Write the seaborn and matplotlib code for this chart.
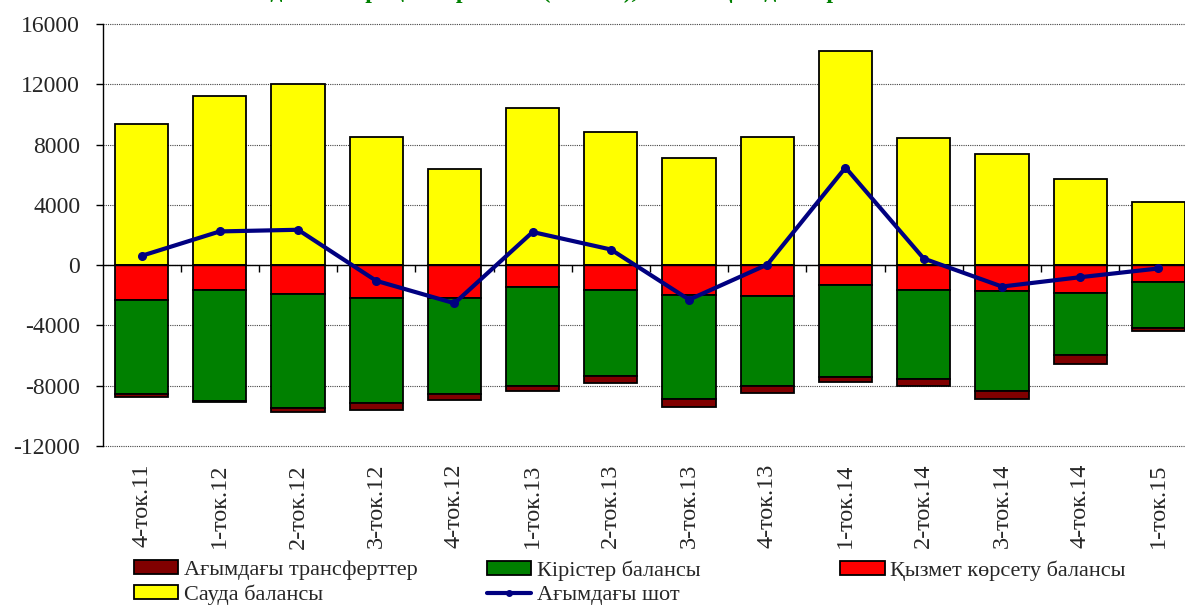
import matplotlib
matplotlib.use('Agg')
import matplotlib.pyplot as plt
import seaborn as sns
import numpy as np
from matplotlib.patches import Patch
from matplotlib.lines import Line2D

quarters = ['4-ток.11', '1-ток.12', '2-ток.12', '3-ток.12', '4-ток.12', '1-ток.13', '2-ток.13',
            '3-ток.13', '4-ток.13', '1-ток.14', '2-ток.14', '3-ток.14', '4-ток.14', '1-ток.15']
trade = [9350, 11250, 12050, 8500, 6390, 10430, 8810, 7100, 8520, 14190, 8460, 7390, 5710, 4170]
services = [-2330, -1640, -1930, -2200, -2200, -1440, -1640, -2000, -2060, -1330, -1640, -1710, -1860, -1150]
income = [-6220, -7350, -7550, -6950, -6350, -6600, -5750, -6880, -5980, -6110, -5950, -6660, -4110, -3000]
transfers = [-220, -90, -270, -440, -420, -290, -420, -550, -480, -310, -450, -510, -580, -250]
current = [620, 2240, 2350, -1040, -2530, 2200, 1040, -2290, 40, 6480, 440, -1420, -800, -220]

labels = ['Ағымдағы трансферттер', 'Кірістер балансы', 'Қызмет көрсету балансы',
          'Сауда балансы', 'Ағымдағы шот']
title = 'Ағымдағы операциялар шоты (баланс), млн. АҚШ доллары'

c_trade = '#FFFF00'
c_serv = '#FF0000'
c_inc = '#008000'
c_trans = '#800000'
c_line = '#000080'

sns.set_style('white')
plt.rcParams['font.family'] = ['Liberation Serif', 'DejaVu Serif']
plt.rcParams['axes.unicode_minus'] = False

fig = plt.figure(figsize=(11.85, 6.05), dpi=100)
ax = fig.add_axes([0.0865, 0.263, 0.924, 0.697])

s = np.array(services, dtype=float)
inc = np.array(income, dtype=float)
bar_kw = dict(edgecolor='black', linewidth=1.3, width=0.68, saturation=1, ax=ax)
sns.barplot(x=quarters, y=trade, color=c_trade, **bar_kw)
sns.barplot(x=quarters, y=services, color=c_serv, **bar_kw)
sns.barplot(x=quarters, y=income, bottom=s, color=c_inc, **bar_kw)
sns.barplot(x=quarters, y=transfers, bottom=s + inc, color=c_trans, **bar_kw)
ax.plot(np.arange(len(quarters)), current, color=c_line, lw=3.0, marker='o', ms=5.5, zorder=4)

ax.set_xlim(-0.5, len(quarters) - 0.5)
ax.set_ylim(-12000, 16000)
ax.set_yticks(np.arange(-12000, 16001, 4000))
ax.set_xlabel('')
ax.set_ylabel('')
ax.set_axisbelow(True)
ax.yaxis.grid(True, linestyle=(0, (1, 1)), color='#444444', lw=0.8)
for gl in ax.get_ygridlines():
    gl.set_clip_on(False)
ax.xaxis.grid(False)

for side in ['top', 'right']:
    ax.spines[side].set_visible(False)
ax.spines['left'].set_color('black')
ax.spines['left'].set_linewidth(1.0)
ax.spines['bottom'].set_position(('data', 0))
ax.spines['bottom'].set_color('black')
ax.spines['bottom'].set_linewidth(1.0)

ax.tick_params(axis='y', direction='out', length=5, width=1, color='black', labelsize=17, pad=11, left=True)
ax.set_xticks(np.arange(len(quarters)))
ax.set_xticklabels([])
ax.tick_params(axis='x', which='major', length=0)
ax.set_xticks(np.arange(0.5, len(quarters) - 1, 1), minor=True)
ax.tick_params(axis='x', which='minor', direction='out', length=5, width=1, color='black', bottom=True)

sec = ax.secondary_xaxis('bottom')
sec.set_xticks(np.arange(len(quarters)))
sec.set_xticklabels(quarters, rotation=90, fontsize=17.5)
sec.tick_params(length=0, pad=13)
sec.spines['bottom'].set_visible(False)

fig.text(0.45, 1.004, title, color='#008000', fontsize=17, fontweight='bold', ha='center', va='baseline')

def patch(c):
    return Patch(facecolor=c, edgecolor='black', linewidth=1.3)

leg_kw = dict(loc='upper left', frameon=False, fontsize=16, handlelength=2.0, handleheight=0.6,
              handletextpad=0.25, labelspacing=0.2, borderpad=0, borderaxespad=0)
l1 = fig.legend([patch(c_trans), patch(c_trade)], [labels[0], labels[3]],
                bbox_to_anchor=(0.113, 0.074), **leg_kw)
l2 = fig.legend([patch(c_inc), Line2D([], [], color=c_line, lw=3.0, marker='o', ms=4)],
                [labels[1], labels[4]], bbox_to_anchor=(0.411, 0.074), **leg_kw)
l3 = fig.legend([patch(c_serv)], [labels[2]], bbox_to_anchor=(0.709, 0.074), **leg_kw)

fig.savefig('out.png', dpi=100)
